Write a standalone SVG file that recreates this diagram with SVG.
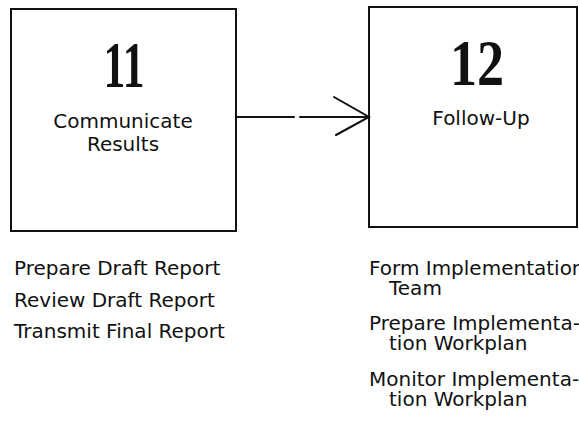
<svg xmlns="http://www.w3.org/2000/svg" width="579" height="424" viewBox="0 0 579 424">
  <style>
    .box { fill: #fff; stroke: #111; stroke-width: 2; }
    .num { font-family: "Liberation Serif", serif; font-weight: bold; font-size: 66px; fill: #111; text-anchor: middle; }
    .lbl { font-family: "DejaVu Sans", sans-serif; font-size: 20px; fill: #111; text-anchor: middle; }
    .item { font-family: "DejaVu Sans", sans-serif; font-size: 20px; fill: #111; }
    .wire { fill: none; stroke: #111; stroke-width: 2; stroke-linecap: round; }
  </style>
  <rect width="579" height="424" fill="#fff"/>

  <g id="step-11">
    <rect class="box" x="11" y="9" width="225" height="222"/>
    <text class="num" transform="translate(124,87) scale(0.66,1)">11</text>
    <text class="lbl" x="123" y="128">Communicate</text>
    <text class="lbl" x="123" y="151">Results</text>
  </g>

  <g id="step-12">
    <rect class="box" x="369" y="7" width="208" height="220"/>
    <text class="num" transform="translate(477,85) scale(0.82,1)">12</text>
    <text class="lbl" x="481" y="125">Follow-Up</text>
  </g>

  <g id="connectors">
    <path class="wire" d="M236,117 H294 M300,117 H369"/>
    <path class="wire" d="M334,97 L369,117 L336,135"/>
  </g>

  <g id="tasks-11">
    <text class="item" x="14" y="275">Prepare Draft Report</text>
    <text class="item" x="14" y="307">Review Draft Report</text>
    <text class="item" x="14" y="338">Transmit Final Report</text>
  </g>

  <g id="tasks-12">
    <text class="item" x="369" y="275">Form Implementation</text>
    <text class="item" x="389" y="295">Team</text>
    <text class="item" x="369" y="330">Prepare Implementa-</text>
    <text class="item" x="389" y="350">tion Workplan</text>
    <text class="item" x="369" y="386">Monitor Implementa-</text>
    <text class="item" x="389" y="406">tion Workplan</text>
  </g>
</svg>
